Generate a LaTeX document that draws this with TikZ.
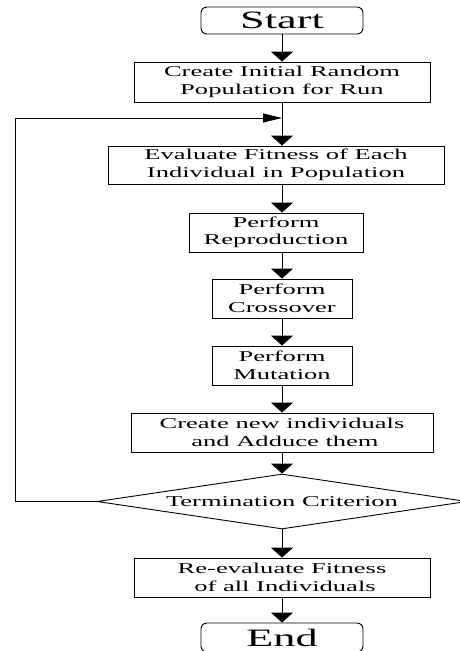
\documentclass[tikz,border=0pt]{standalone}
\usepackage{fontspec}
\setmainfont{Liberation Serif}[FakeStretch=1.77]
\usetikzlibrary{arrows.meta,shapes.geometric}
\begin{document}
\begin{tikzpicture}[x=1pt,y=-1pt,
  box/.style={draw, line width=0.9pt, inner sep=0pt, align=center, font=\fontsize{15}{17.5}\selectfont},
  term/.style={draw, line width=0.9pt, inner sep=0pt, rounded corners=6pt, font=\fontsize{25}{30}\selectfont},
  decision/.style={draw, line width=0.9pt, diamond, aspect=7, inner sep=0pt, font=\fontsize{15}{17.5}\selectfont},
  varrow/.style={line width=0.9pt, -{Triangle[length=10pt,width=22pt]}},
  harrow/.style={line width=0.9pt, -{Triangle[length=19pt,width=9pt]}},
]
\useasboundingbox (0,0) rectangle (460,651);

\node[term, minimum width=162pt, minimum height=27pt] (start) at (282,20.5) {Start};
\node[box, minimum width=296pt, minimum height=40pt] (init) at (282,82) {Create Initial Random\\Population for Run};
\node[box, minimum width=336pt, minimum height=38pt] (eval) at (276,165) {Evaluate Fitness of Each\\Individual in Population};
\node[box, minimum width=174pt, minimum height=39pt] (rep) at (276,232.5) {Perform\\Reproduction};
\node[box, minimum width=140pt, minimum height=39pt] (cross) at (282,298.5) {Perform\\Crossover};
\node[box, minimum width=140pt, minimum height=39pt] (mut) at (282,365.5) {Perform\\Mutation};
\node[box, minimum width=302pt, minimum height=39pt] (newind) at (282,432.5) {Create new individuals\\\hspace*{6pt}and Adduce them};
\node[decision, minimum width=370pt, minimum height=55pt] (dia) at (282,501.5) {Termination Criterion};
\node[box, minimum width=296pt, minimum height=39pt] (reev) at (282,577.5) {Re-evaluate Fitness\\\hspace*{6pt}of all Individuals};
\node[term, minimum width=162pt, minimum height=29pt] (end) at (282,637.5) {End};

\coordinate (ax) at (282,0);
\coordinate (fb) at (282,118);
\coordinate (lc) at (15,118);

\draw[varrow] (start.south) -- (init.north);
\draw[varrow] (init.south) -- (ax |- eval.north);
\draw[harrow] (dia.west) -| (lc) -- (fb);
\draw[varrow] (ax |- eval.south) -- (ax |- rep.north);
\draw[varrow] (ax |- rep.south) -- (cross.north);
\draw[varrow] (cross.south) -- (mut.north);
\draw[varrow] (mut.south) -- (newind.north);
\draw[varrow] (newind.south) -- (dia.north);
\draw[varrow] (dia.south) -- (reev.north);
\draw[varrow] (reev.south) -- (end.north);
\end{tikzpicture}
\end{document}
